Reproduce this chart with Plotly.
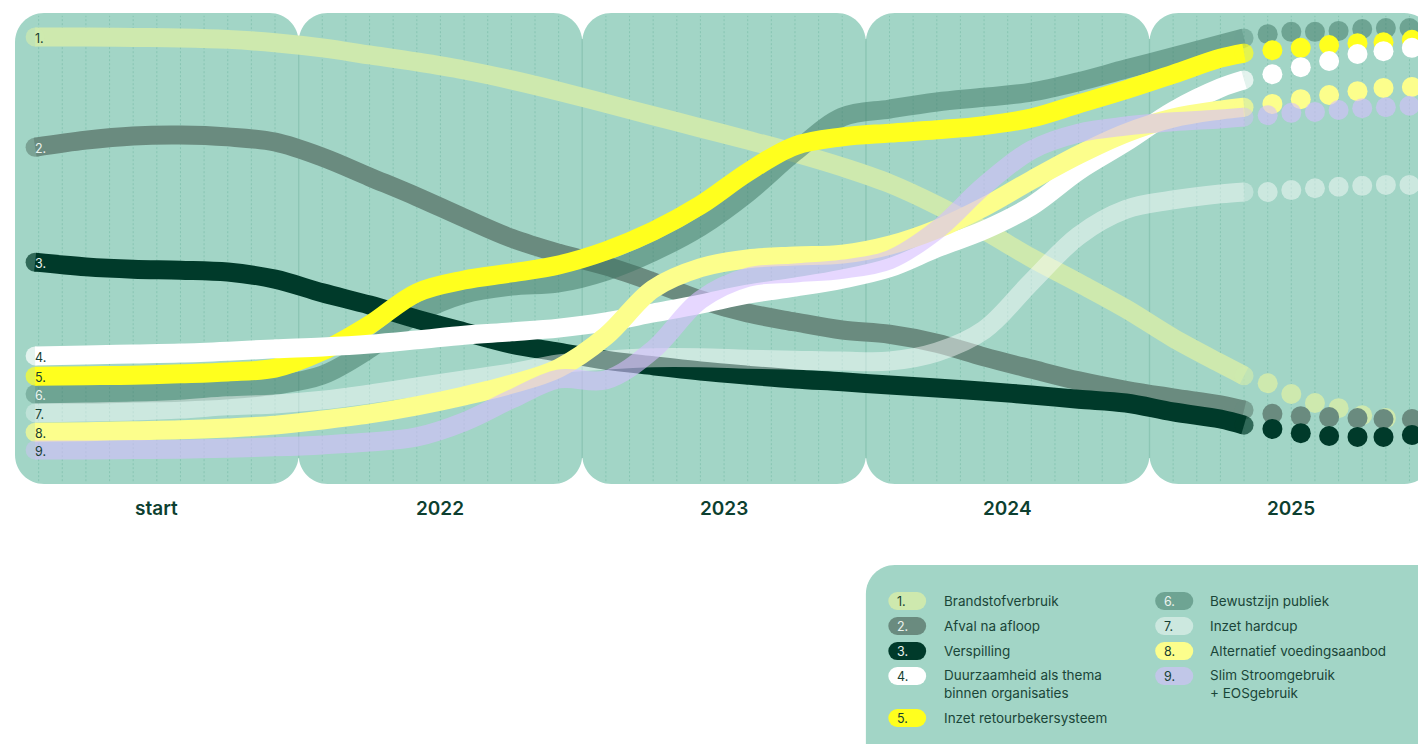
import plotly.graph_objects as go

# ---------------- data ----------------
# x: months since start (each panel = 12 months); y: score 0-100 (panel bottom = 0, top = 100)
months = [0.85, 3, 5, 7, 9, 11, 13, 15, 17, 19, 21, 23, 25, 27, 29, 31, 33, 35, 37, 39, 41, 43, 45, 47, 49, 51, 52]

s1 = [94.9, 94.9, 94.8, 94.7, 94.4, 93.7, 92.6, 91.1, 89.6, 87.9, 85.8, 83.4, 80.8, 78.2, 75.6, 73.0, 70.3, 67.3, 63.8, 59.2, 53.9, 48.0, 42.7, 37.2, 31.0, 25.6, 23.0]
s2 = [71.5, 73.0, 73.9, 74.1, 73.7, 72.6, 69.4, 65.2, 61.0, 56.5, 52.2, 49.0, 46.3, 42.9, 39.1, 36.3, 34.4, 32.7, 31.8, 29.9, 27.0, 24.4, 21.9, 19.9, 18.3, 16.8, 15.7]
s3 = [47.1, 46.1, 45.6, 45.4, 45.0, 43.5, 40.6, 38.0, 35.0, 32.3, 29.7, 28.0, 26.3, 25.1, 24.0, 23.1, 22.3, 21.7, 21.0, 20.4, 19.7, 18.9, 18.0, 17.2, 15.3, 13.8, 12.5]
s4 = [27.2, 27.4, 27.6, 27.8, 28.2, 28.7, 29.1, 29.7, 30.6, 31.6, 32.3, 33.1, 34.4, 36.3, 38.2, 40.3, 41.8, 43.5, 45.9, 50.1, 53.9, 59.0, 66.5, 72.6, 79.2, 84.1, 85.8]
s5 = [22.9, 23.0, 23.1, 23.4, 23.8, 24.6, 28.2, 33.8, 40.6, 43.3, 44.8, 46.5, 49.5, 53.7, 59.2, 66.2, 71.8, 73.7, 74.5, 75.2, 76.1, 77.7, 80.7, 83.7, 87.0, 90.4, 91.5]
s6 = [19.1, 19.1, 19.3, 19.5, 20.0, 21.0, 23.1, 28.7, 36.1, 40.3, 42.0, 42.7, 45.2, 49.3, 54.6, 61.8, 70.5, 77.9, 79.6, 81.1, 82.1, 83.2, 85.4, 88.1, 90.7, 93.4, 94.7]
s7 = [15.1, 15.3, 15.5, 15.9, 16.6, 17.0, 17.8, 19.1, 20.6, 22.1, 23.6, 25.5, 26.3, 26.8, 26.8, 26.5, 26.3, 26.1, 26.1, 28.0, 32.7, 42.9, 52.7, 58.3, 60.3, 61.6, 62.0]
s8 = [11.0, 11.1, 11.3, 11.5, 11.9, 12.5, 13.6, 14.9, 16.6, 18.7, 21.2, 24.6, 31.4, 41.4, 45.9, 47.8, 48.4, 48.8, 50.7, 54.1, 58.8, 64.5, 69.9, 74.5, 77.7, 79.4, 80.0]
s9 = [7.2, 7.2, 7.3, 7.4, 7.6, 7.9, 8.3, 8.9, 10.0, 13.2, 18.0, 22.3, 22.1, 28.5, 39.1, 43.9, 44.8, 45.6, 47.6, 53.9, 63.3, 70.9, 74.5, 76.0, 76.9, 77.5, 77.9]

# dotted continuation (2025 outlook)
dots_a_x = [53.2, 54.4, 55.6, 56.8, 57.9, 59.1]
dots_b_x = [53, 54, 55, 56, 57, 58, 59]
d1 = [21.4, 19.1, 17.2, 16.1, 14.6, 14.0]
d2 = [14.9, 14.4, 14.2, 14.0, 13.8, 13.8]
d3 = [11.7, 10.8, 10.2, 10.0, 10.0, 10.4]
d4 = [87.0, 88.5, 89.8, 91.3, 91.9, 92.6]
d5 = [92.1, 92.6, 93.2, 93.6, 93.8, 94.3]
d6 = [95.5, 96.0, 96.0, 96.2, 96.6, 96.8, 96.8]
d7 = [62.0, 62.4, 62.8, 63.1, 63.3, 63.5, 63.5]
d8 = [80.7, 81.7, 82.6, 83.4, 84.1, 84.3]
d9 = [78.3, 78.8, 79.0, 79.4, 79.8, 80.0, 80.3]

periods = ["start", "2022", "2023", "2024", "2025"]
numbers = ["1.", "2.", "3.", "4.", "5.", "6.", "7.", "8.", "9."]
names = ["Brandstofverbruik", "Afval na afloop", "Verspilling",
         "Duurzaamheid als thema<br>binnen organisaties", "Inzet retourbekersysteem",
         "Bewustzijn publiek", "Inzet hardcup", "Alternatief voedingsaanbod",
         "Slim Stroomgebruik<br>+ EOSgebruik"]

series = [s1, s2, s3, s4, s5, s6, s7, s8, s9]
dots_y = [d1, d2, d3, d4, d5, d6, d7, d8, d9]
dots_x = [dots_b_x, dots_a_x, dots_a_x, dots_a_x, dots_a_x, dots_b_x, dots_b_x, dots_a_x, dots_b_x]

# ---------------- styles ----------------
colors = ["#CEE9AE", "#6A8B7F", "#003A2A", "#FFFFFF", "#FFFF1E",
          "#3B7462", "#FFFFFF", "#FCFE8C", "#D7BEFF"]
opac = [1, 1, 1, 1, 1, 0.5, 0.45, 1, 0.6]
numcol = ["#173F33", "#EAF2EE", "#EAF2EE", "#173F33", "#173F33",
          "#EAF2EE", "#173F33", "#173F33", "#173F33"]
draw_order = [0, 1, 5, 2, 4, 3, 6, 7, 8]

PANEL = "#A2D5C6"
FONT = "Inter"
LW = 19
DOT = 20

fig = go.Figure()

for i in draw_order:
    y = series[i]
    n = len(y)
    sizes = [LW] + [0] * (n - 2) + [LW]
    fig.add_trace(go.Scatter(
        x=months, y=y, mode="lines+markers",
        line=dict(color=colors[i], width=LW, shape="spline", smoothing=1.0),
        marker=dict(size=sizes, color=colors[i], line=dict(width=0)),
        opacity=opac[i], hoverinfo="skip"))
for i in draw_order:
    fig.add_trace(go.Scatter(
        x=dots_x[i][:len(dots_y[i])], y=dots_y[i], mode="markers",
        marker=dict(size=DOT, color=colors[i], line=dict(width=0)),
        opacity=opac[i], hoverinfo="skip"))

# ---------------- panels ----------------
PX_X = 23.635   # px per month
PX_Y = 4.709    # px per score unit
rx = 29 / PX_X
ry = 29 / PX_Y
k = 0.5523


def rounded(x0, x1, y0, y1):
    return (f"M {x0+rx},{y1} L {x1-rx},{y1} "
            f"C {x1-rx+k*rx},{y1} {x1},{y1-ry+k*ry} {x1},{y1-ry} "
            f"L {x1},{y0+ry} "
            f"C {x1},{y0+ry-k*ry} {x1-rx+k*rx},{y0} {x1-rx},{y0} "
            f"L {x0+rx},{y0} "
            f"C {x0+rx-k*rx},{y0} {x0},{y0+ry-k*ry} {x0},{y0+ry} "
            f"L {x0},{y1-ry} "
            f"C {x0},{y1-ry+k*ry} {x0+rx-k*rx},{y1} {x0+rx},{y1} Z")


shapes = []
for p in range(len(periods)):
    shapes.append(dict(type="path", xref="x", yref="y", path=rounded(12 * p, 12 * p + 12, 0, 100),
                       fillcolor=PANEL, line=dict(width=0), layer="below"))
for p in range(len(periods)):
    for mth in range(1, 12):
        xm = 12 * p + mth
        shapes.append(dict(type="line", xref="x", yref="y", x0=xm, x1=xm, y0=0.6, y1=99.4,
                           line=dict(color="rgba(80,165,140,0.32)", width=1, dash="2px,2px"), layer="below"))
for p in range(1, len(periods)):
    shapes.append(dict(type="line", xref="x", yref="y", x0=12 * p, x1=12 * p, y0=ry * 0.9, y1=100 - ry * 0.9,
                       line=dict(color="rgba(110,180,158,0.6)", width=1.2), layer="below"))

# legend box
shapes.append(dict(type="path", xref="x", yref="y", path=rounded(36.0, 62.0, -70, -17.2),
                   fillcolor=PANEL, line=dict(width=0), layer="below"))

annotations = []
for p, lab in enumerate(periods):
    annotations.append(dict(x=12 * p + 6, y=-5.1, text=lab, showarrow=False, xanchor="center", yanchor="middle",
                            font=dict(family=FONT, size=19, color="#0D3F30", weight=600)))
for i in range(9):
    annotations.append(dict(x=0.76, y=series[i][0] - 0.35, text=numbers[i], showarrow=False,
                            xanchor="left", yanchor="middle",
                            font=dict(family=FONT, size=12.5, color=numcol[i])))

# legend entries
rows = [-24.84, -30.15, -35.46, -40.76, -49.68, -24.84, -30.15, -35.46, -40.76]
pill_x = [[37.33, 38.17]] * 5 + [[48.62, 49.47]] * 4
num_x = [37.22] * 5 + [48.52] * 4
txt_x = [39.2] * 5 + [50.46] * 4
for i in range(9):
    fig.add_trace(go.Scatter(
        x=pill_x[i], y=[rows[i], rows[i]], mode="lines+markers",
        line=dict(color=colors[i], width=18), marker=dict(size=18, color=colors[i], line=dict(width=0)),
        opacity=opac[i], hoverinfo="skip"))
    annotations.append(dict(x=num_x[i], y=rows[i] - 0.2, text=numbers[i], showarrow=False,
                            xanchor="left", yanchor="middle",
                            font=dict(family=FONT, size=12.5, color=numcol[i])))
    two = "<br>" in names[i]
    annotations.append(dict(x=txt_x[i], y=rows[i] - (1.8 if two else 0.1), text=names[i], showarrow=False,
                            xanchor="left", yanchor="middle", align="left",
                            font=dict(family=FONT, size=13.5, color="#1A4538")))

fig.update_layout(
    width=1418, height=744,
    margin=dict(l=0, r=0, t=0, b=0),
    paper_bgcolor="white", plot_bgcolor="white",
    showlegend=False,
    xaxis=dict(range=[-0.635, 59.36], visible=False, fixedrange=True),
    yaxis=dict(range=[-55.2, 102.76], visible=False, fixedrange=True),
    shapes=shapes, annotations=annotations,
)

fig.write_html("out.html", config={"displayModeBar": False})
